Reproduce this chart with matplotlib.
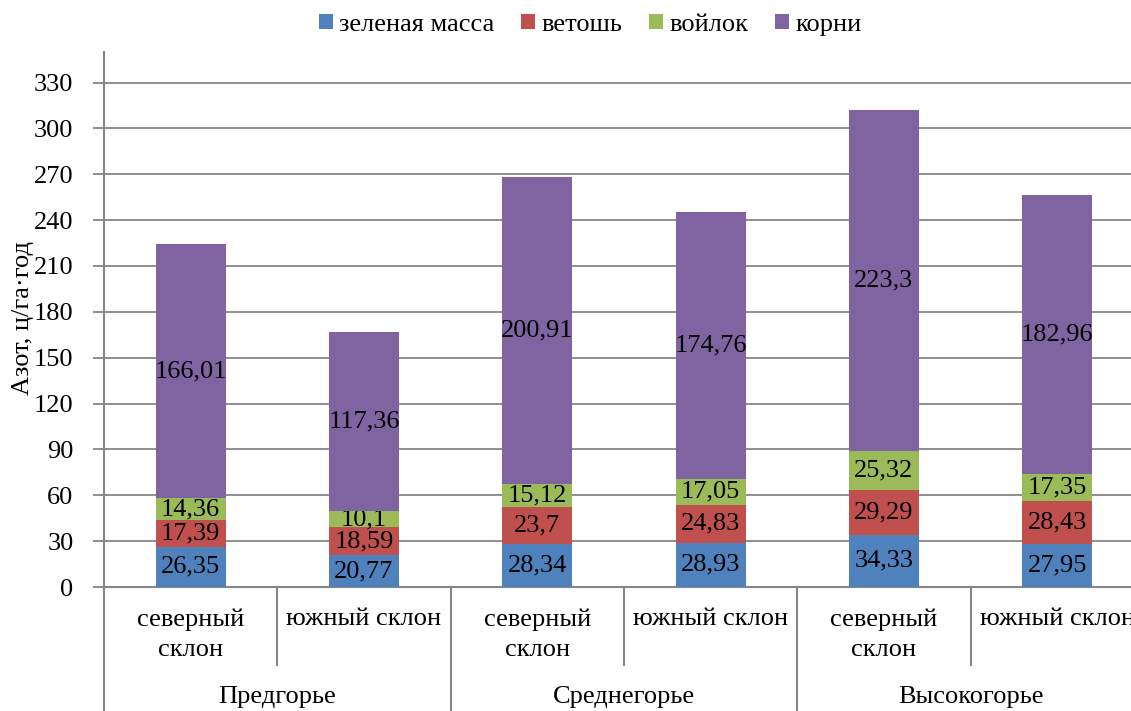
import matplotlib
matplotlib.use("Agg")
import matplotlib.pyplot as plt
from matplotlib.lines import Line2D
import numpy as np

plt.rcParams['font.family'] = ['Liberation Serif', 'DejaVu Serif']

# Data: nitrogen by plant fraction, ц/га·год
groups = ["Предгорье", "Среднегорье", "Высокогорье"]
slopes = ["северный\nсклон", "южный склон"] * 3
series_names = ["зеленая масса", "ветошь", "войлок", "корни"]
green_mass = [26.35, 20.77, 28.34, 28.93, 34.33, 27.95]
litter = [17.39, 18.59, 23.7, 24.83, 29.29, 28.43]
felt = [14.36, 10.1, 15.12, 17.05, 25.32, 17.35]
roots = [166.01, 117.36, 200.91, 174.76, 223.3, 182.96]
yticks = list(range(0, 331, 30))

colors = ["#4F81BD", "#C0504D", "#9BBB59", "#8064A2"]
grid_c = "#868686"

W, H = 1131, 711
fig = plt.figure(figsize=(W / 100, H / 100), dpi=100)
ax_l, ax_r, ax_b, ax_t = 104, 1144, 587, 52
ax = fig.add_axes([ax_l / W, 1 - ax_b / H, (ax_r - ax_l) / W, (ax_b - ax_t) / H])

x = np.arange(len(green_mass))
bottom = np.zeros(len(x))
fs = 19
for vals, col, name in zip([green_mass, litter, felt, roots], colors, series_names):
    v = np.array(vals)
    bars = ax.bar(x, v, width=0.404, bottom=bottom, color=col, label=name, zorder=3)
    labels = [f"{val:g}".replace(".", ",") for val in v]
    ax.bar_label(bars, labels=labels, label_type="center", fontsize=fs, color="black")
    bottom += v

ax.set_xlim(-0.5, len(x) - 0.5)
ax.set_ylim(0, 350)
ax.set_yticks(yticks)
ax.tick_params(axis="y", length=8, width=1.3, color=grid_c, labelsize=fs, pad=14)
ax.set_xticks([])
ax.yaxis.grid(True, color=grid_c, linewidth=1.3, zorder=0)
for s in ["top", "right"]:
    ax.spines[s].set_visible(False)
for s in ["left", "bottom"]:
    ax.spines[s].set_color(grid_c)
    ax.spines[s].set_linewidth(1.5)

# Two-level category axis
px_h = ax_b - ax_t
px_w = ax_r - ax_l
def yfrac(py):
    return (ax_b - py) / px_h

ax.set_ylabel("Азот, ц/га·год", fontsize=19)
ax.yaxis.set_label_coords((34 - ax_l) / px_w, yfrac(318))

tr = ax.get_xaxis_transform()
for b in [0.5, 2.5, 4.5]:
    ax.add_line(Line2D([b, b], [0, yfrac(665)], transform=tr, color=grid_c,
                       linewidth=1.5, clip_on=False))
for b in [-0.5, 1.5, 3.5, 5.5]:
    ax.add_line(Line2D([b, b], [0, yfrac(H + 5)], transform=tr, color=grid_c,
                       linewidth=1.5, clip_on=False))

for xi, lab in zip(x, slopes):
    lines = lab.split("\n")
    if len(lines) == 2:
        ax.text(xi, yfrac(620), lines[0], transform=tr, ha="center", va="center", fontsize=fs)
        ax.text(xi, yfrac(650), lines[1], transform=tr, ha="center", va="center", fontsize=fs)
    else:
        ax.text(xi, yfrac(619), lab, transform=tr, ha="center", va="center", fontsize=fs)

for gi, g in enumerate(groups):
    ax.text(2 * gi + 0.5, yfrac(697), g, transform=tr, ha="center", va="center", fontsize=fs)

fig.legend(loc="center", bbox_to_anchor=(590 / W, 1 - 25 / H), ncol=4, frameon=False,
           fontsize=19, handlelength=0.53, handleheight=0.53, handletextpad=0.25,
           columnspacing=1.0, borderpad=0)

fig.savefig("out.png", dpi=100)
